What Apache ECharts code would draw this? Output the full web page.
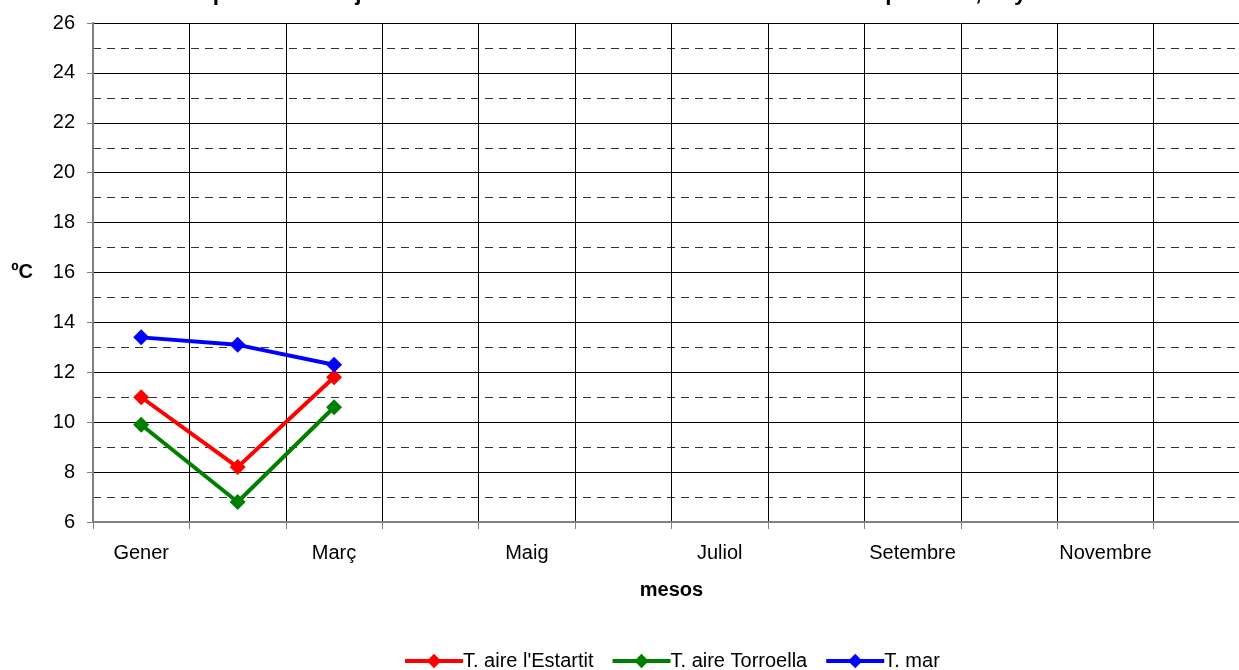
<!DOCTYPE html>
<html><head><meta charset="utf-8">
<script src="https://cdn.jsdelivr.net/npm/echarts@6/dist/echarts.min.js"></script>
<style>html,body{margin:0;padding:0;background:#fff;overflow:hidden;width:1239px;height:670px}#c{width:1251px;height:670px}</style>
</head><body><div id="c"></div>
<script>
const months = ['Gener','Febrer','Març','Abril','Maig','Juny','Juliol','Agost','Setembre','Octubre','Novembre','Desembre'];
const estartit = [11.0, 8.2, 11.8];
const torroella = [9.9, 6.8, 10.6];
const mar = [13.4, 13.1, 12.3];
const seriesNames = ["T. aire l'Estartit", 'T. aire Torroella', 'T. mar'];
const colors = ['#ff0000', '#008000', '#0000ff'];
const titleText = "Temperatures mitjanes de l'aire a l'Estartit i Torroella i del mar. Temperatura, any 2009";

const font = 'Liberation Sans';
const chart = echarts.init(document.getElementById('c'));
function mk(name, data, color) {
  return {
    name, type: 'line', data, color,
    symbol: 'diamond', symbolSize: 16,
    lineStyle: {width: 4, color},
    itemStyle: {color},
    animation: false
  };
}
chart.setOption({
  animation: false,
  textStyle: {fontFamily: font},
  title: {text: titleText, left: 'center', top: -23,
    textStyle: {fontFamily: font, fontSize: 22.5, fontWeight: 'bold', color: '#000'}},
  grid: {left: 93, top: 23, right: 1, height: 499, containLabel: false},
  legend: {
    bottom: -6, left: 398, itemWidth: 58, itemHeight: 18, itemGap: 17,
    lineStyle: {width: 4},
    textStyle: {fontFamily: font, fontSize: 20, color: '#000', padding: [0,0,0,-5]},
    data: seriesNames
  },
  xAxis: {
    type: 'category', data: months, boundaryGap: true,
    name: 'mesos', nameLocation: 'middle', nameGap: 58,
    nameTextStyle: {fontFamily: font, fontSize: 20, fontWeight: 'bold', color: '#000'},
    axisLine: {lineStyle: {color: '#808080', width: 2}},
    axisTick: {show: true, interval: 0, length: 7, lineStyle: {color: '#808080'}},
    axisLabel: {interval: 1, fontFamily: font, fontSize: 20, color: '#000', margin: 21},
    splitLine: {show: true, interval: 0, lineStyle: {color: '#000', width: 1}}
  },
  yAxis: {
    type: 'value', min: 6, max: 26, interval: 2,
    name: 'ºC', nameLocation: 'middle', nameGap: 60, nameRotate: 0,
    nameTextStyle: {fontFamily: font, fontSize: 20, fontWeight: 'bold', color: '#000'},
    axisLine: {show: true, lineStyle: {color: '#808080', width: 2}},
    axisTick: {show: true, length: 6, lineStyle: {color: '#808080'}},
    axisLabel: {fontFamily: font, fontSize: 20, color: '#000', margin: 18},
    splitLine: {show: true, lineStyle: {color: '#000', width: 1}},
    minorTick: {show: false, splitNumber: 2},
    minorSplitLine: {show: true, lineStyle: {color: '#333', width: 1, type: [8, 6]}}
  },
  series: [mk(seriesNames[0], estartit, colors[0]), mk(seriesNames[1], torroella, colors[1]), mk(seriesNames[2], mar, colors[2])]
});
</script></body></html>
